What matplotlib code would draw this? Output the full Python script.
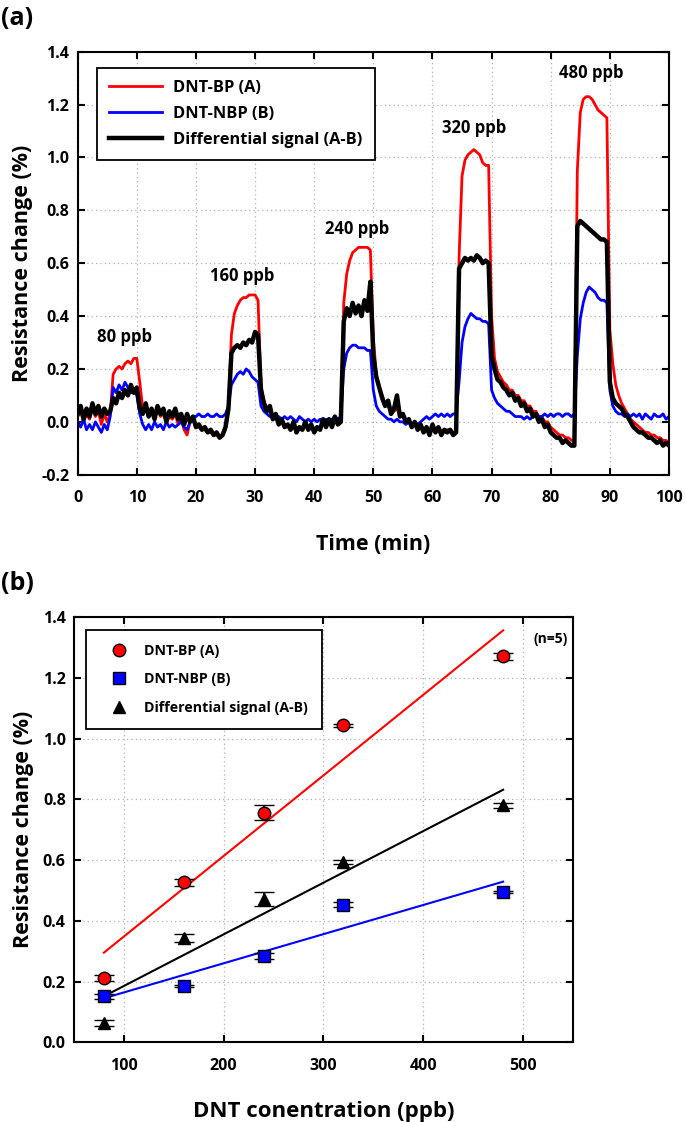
import numpy as np
import matplotlib
matplotlib.use("Agg")
import matplotlib.pyplot as plt

plt.rcParams['font.family'] = ['Open Sans', 'DejaVu Sans']
plt.rcParams['font.weight'] = 'bold'

# ---- panel (a): transient response, sampled every 0.5 min ----
time_min = np.arange(0, 100.5, 0.5)

sig_bp = [0.02, 0.04, 0.00, 0.03, 0.01, 0.05, 0.02, 0.04, -0.01, 0.03, 0.00, 0.03,
          0.18, 0.20, 0.21, 0.20, 0.22, 0.23, 0.22, 0.24, 0.24, 0.15, 0.05, 0.06,
          0.02, 0.04, 0.01, 0.05, 0.02, 0.03, 0.00, 0.02, 0.01, 0.03, -0.01, 0.01,
          -0.03, -0.05, 0.00, 0.01, -0.02, -0.02, -0.03, -0.03, -0.04, -0.04, -0.05, -0.05,
          -0.06, -0.05, -0.03, 0.05, 0.33, 0.41, 0.44, 0.46, 0.47, 0.47, 0.48, 0.48,
          0.48, 0.46, 0.14, 0.08, 0.05, 0.04, 0.02, 0.02, 0.00, 0.00, -0.01, -0.01,
          -0.02, -0.01, -0.03, -0.02, -0.03, -0.01, -0.03, -0.02, -0.03, -0.02, -0.03, 0.00,
          -0.02, 0.00, -0.02, 0.01, -0.01, 0.00, 0.45, 0.56, 0.61, 0.64, 0.65, 0.66,
          0.66, 0.66, 0.66, 0.65, 0.32, 0.18, 0.13, 0.10, 0.07, 0.06, 0.04, 0.04,
          0.05, 0.02, 0.02, 0.00, 0.00, -0.02, -0.01, -0.02, -0.01, -0.03, -0.02, -0.04,
          -0.02, -0.03, -0.02, -0.04, -0.03, -0.03, -0.03, -0.04, -0.04, 0.62, 0.93, 0.99,
          1.01, 1.02, 1.03, 1.02, 1.01, 0.98, 0.97, 0.97, 0.40, 0.24, 0.19, 0.17,
          0.15, 0.14, 0.12, 0.12, 0.10, 0.10, 0.08, 0.08, 0.06, 0.06, 0.04, 0.04,
          0.02, 0.02, 0.00, 0.00, -0.02, -0.03, -0.04, -0.05, -0.05, -0.06, -0.06, -0.07,
          -0.07, 0.95, 1.17, 1.22, 1.23, 1.23, 1.22, 1.20, 1.18, 1.17, 1.16, 1.15,
          0.35, 0.22, 0.14, 0.10, 0.07, 0.05, 0.03, 0.01, 0.00, -0.01, -0.02, -0.03,
          -0.04, -0.04, -0.05, -0.05, -0.06, -0.06, -0.07, -0.07, -0.08]

sig_nbp = [0.00, -0.02, 0.01, -0.03, -0.01, -0.03, 0.00, -0.02, -0.04, -0.01, -0.03, 0.02,
           0.13, 0.11, 0.14, 0.12, 0.15, 0.13, 0.11, 0.12, 0.10, 0.03, -0.01, -0.03,
           -0.01, -0.03, 0.00, -0.02, -0.01, -0.03, 0.00, -0.02, -0.01, -0.02, -0.01, 0.00,
           -0.02, -0.03, 0.00, 0.02, 0.02, 0.03, 0.02, 0.02, 0.03, 0.02, 0.02, 0.03,
           0.02, 0.02, 0.03, 0.06, 0.14, 0.16, 0.18, 0.19, 0.18, 0.20, 0.19, 0.17,
           0.16, 0.15, 0.06, 0.04, 0.03, 0.02, 0.02, 0.01, 0.02, 0.01, 0.02, 0.01,
           0.02, 0.01, 0.00, 0.02, 0.01, 0.00, 0.01, 0.00, 0.01, 0.00, 0.01, 0.00,
           0.01, 0.00, 0.01, 0.02, 0.01, 0.02, 0.20, 0.26, 0.28, 0.29, 0.29, 0.28,
           0.28, 0.28, 0.27, 0.27, 0.12, 0.06, 0.04, 0.03, 0.02, 0.01, 0.01, 0.00,
           0.01, 0.00, 0.00, -0.01, 0.00, -0.01, 0.00, -0.01, 0.00, 0.01, 0.02, 0.01,
           0.02, 0.03, 0.02, 0.03, 0.02, 0.03, 0.02, 0.03, 0.03, 0.15, 0.30, 0.36,
           0.39, 0.41, 0.40, 0.39, 0.39, 0.38, 0.38, 0.37, 0.12, 0.09, 0.07, 0.06,
           0.05, 0.04, 0.04, 0.03, 0.02, 0.02, 0.02, 0.01, 0.02, 0.01, 0.02, 0.03,
           0.02, 0.02, 0.03, 0.02, 0.03, 0.02, 0.03, 0.03, 0.02, 0.03, 0.03, 0.02,
           0.03, 0.25, 0.39, 0.45, 0.49, 0.51, 0.50, 0.49, 0.47, 0.46, 0.46, 0.45,
           0.12, 0.06, 0.04, 0.03, 0.03, 0.02, 0.03, 0.02, 0.03, 0.02, 0.03, 0.01,
           0.03, 0.02, 0.01, 0.03, 0.02, 0.02, 0.03, 0.01, 0.02]

sig_diff = [0.03, 0.06, 0.01, 0.05, 0.02, 0.07, 0.03, 0.06, 0.02, 0.05, 0.03, 0.04,
            0.09, 0.07, 0.11, 0.09, 0.12, 0.10, 0.14, 0.11, 0.13, 0.05, 0.03, 0.07,
            0.02, 0.05, 0.01, 0.06, 0.03, 0.05, 0.00, 0.04, 0.02, 0.05, 0.01, 0.03,
            -0.01, 0.03, 0.00, 0.02, -0.02, -0.01, -0.03, -0.02, -0.04, -0.03, -0.05, -0.04,
            -0.06, -0.05, -0.02, 0.05, 0.26, 0.28, 0.29, 0.28, 0.30, 0.29, 0.31, 0.30,
            0.34, 0.33, 0.12, 0.07, 0.04, 0.06, 0.01, 0.03, -0.01, 0.01, -0.02, -0.01,
            -0.03, 0.00, -0.04, -0.02, -0.03, 0.00, -0.03, -0.01, -0.04, -0.02, -0.03, 0.01,
            -0.02, 0.01, -0.02, 0.02, -0.01, 0.00, 0.38, 0.43, 0.40, 0.45, 0.41, 0.44,
            0.40, 0.46, 0.42, 0.53, 0.25, 0.17, 0.13, 0.09, 0.06, 0.08, 0.03, 0.05,
            0.10, 0.02, 0.03, 0.00, 0.01, -0.02, 0.00, -0.03, -0.01, -0.04, -0.02, -0.05,
            -0.01, -0.04, -0.02, -0.05, -0.03, -0.04, -0.03, -0.05, -0.04, 0.58, 0.60, 0.62,
            0.61, 0.62, 0.61, 0.63, 0.62, 0.60, 0.61, 0.60, 0.25, 0.20, 0.16, 0.15,
            0.13, 0.12, 0.10, 0.11, 0.08, 0.09, 0.06, 0.07, 0.04, 0.05, 0.02, 0.03,
            0.00, 0.01, -0.02, -0.01, -0.04, -0.05, -0.06, -0.06, -0.08, -0.07, -0.08, -0.09,
            -0.09, 0.74, 0.76, 0.75, 0.74, 0.73, 0.72, 0.71, 0.70, 0.69, 0.69, 0.68,
            0.15, 0.09, 0.07, 0.06, 0.05, 0.03, 0.02, 0.00, -0.02, -0.03, -0.04, -0.04,
            -0.05, -0.06, -0.06, -0.07, -0.08, -0.07, -0.09, -0.08, -0.09]

pulse_labels = ["80 ppb", "160 ppb", "240 ppb", "320 ppb", "480 ppb"]
pulse_label_t = [7.9, 27.9, 47.3, 67.1, 86.8]
pulse_label_v = [0.32, 0.55, 0.73, 1.11, 1.32]

# ---- panel (b): calibration ----
conc = np.array([80, 160, 240, 320, 480])
mean_bp = np.array([0.213, 0.527, 0.757, 1.045, 1.271])
err_bp = np.array([0.010, 0.011, 0.026, 0.005, 0.010])
mean_nbp = np.array([0.151, 0.186, 0.285, 0.454, 0.495])
err_nbp = np.array([0.007, 0.004, 0.009, 0.008, 0.004])
mean_diff = np.array([0.064, 0.344, 0.472, 0.594, 0.781])
err_diff = np.array([0.009, 0.013, 0.022, 0.008, 0.008])

names = ["DNT-BP (A)", "DNT-NBP (B)", "Differential signal (A-B)"]

fig = plt.figure(figsize=(6.85, 11.22), dpi=100)
ax1 = fig.add_axes([0.1134, 0.5769, 0.8632, 0.377])
ax2 = fig.add_axes([0.108, 0.0710, 0.7285, 0.3788])

grid_kw = dict(color='#b0b0b0', linestyle=(0, (1, 2.5)), linewidth=0.9)

ax1.plot(time_min, sig_bp, color='red', lw=2.0, label=names[0])
ax1.plot(time_min, sig_nbp, color='blue', lw=2.0, label=names[1])
ax1.plot(time_min, sig_diff, color='black', lw=3.2, label=names[2])
for lab, tx, ty in zip(pulse_labels, pulse_label_t, pulse_label_v):
    ax1.text(tx, ty, lab, ha='center', va='center', fontsize=12, fontweight='bold')
ax1.set_xlim(0, 100)
ax1.set_ylim(-0.2, 1.4)
ax1.set_xticks(np.arange(0, 101, 10))
ax1.set_yticks(np.arange(-0.2, 1.41, 0.2))
ax1.set_yticklabels(['%.1f' % v for v in np.arange(-0.2, 1.41, 0.2)])
ax1.set_xlabel("Time (min)", fontsize=15.5, fontweight='bold', labelpad=20)
ax1.set_ylabel("Resistance change (%)", fontsize=15.5, fontweight='bold', labelpad=6)
leg1 = ax1.legend(loc='upper left', bbox_to_anchor=(0.033, 0.962), borderaxespad=0,
                  fontsize=11.8, handlelength=3.2, fancybox=False, edgecolor='black',
                  framealpha=1, borderpad=0.75, labelspacing=0.6, handletextpad=0.7)
leg1.get_frame().set_linewidth(1.3)

ax2.plot(conc, np.polyval(np.polyfit(conc, mean_bp, 1), conc), color='red', lw=1.5)
ax2.plot(conc, np.polyval(np.polyfit(conc, mean_diff, 1), conc), color='black', lw=1.5)
ax2.plot(conc, np.polyval(np.polyfit(conc, mean_nbp, 1), conc), color='blue', lw=1.5)
err_kw = dict(ecolor='black', elinewidth=1.2, capsize=7, capthick=2, linestyle='none',
              markeredgecolor='black', markeredgewidth=1.0, zorder=3)
ax2.errorbar(conc, mean_bp, yerr=err_bp, marker='o', color='red', markersize=9,
             label=names[0], **err_kw)
ax2.errorbar(conc, mean_nbp, yerr=err_nbp, marker='s', color='blue', markersize=8,
             label=names[1], **err_kw)
ax2.errorbar(conc, mean_diff, yerr=err_diff, marker='^', color='black', markersize=9,
             label=names[2], **err_kw)
ax2.text(0.99, 0.965, "(n=5)", transform=ax2.transAxes, ha='right', va='top',
         fontsize=10, fontweight='bold')
ax2.set_xlim(50, 550)
ax2.set_ylim(0, 1.4)
ax2.set_xticks([100, 200, 300, 400, 500])
ax2.set_yticks(np.arange(0, 1.41, 0.2))
ax2.set_yticklabels(['%.1f' % v for v in np.arange(0, 1.41, 0.2)])
ax2.set_xlabel("DNT conentration (ppb)", fontsize=16, fontweight='bold', labelpad=20)
ax2.set_ylabel("Resistance change (%)", fontsize=15.5, fontweight='bold', labelpad=6)
handles, labels = ax2.get_legend_handles_labels()
handles = [h[0] for h in handles]
leg2 = ax2.legend(handles, labels, loc='upper left', bbox_to_anchor=(0.024, 0.970),
                  borderaxespad=0, fontsize=10.2, handlelength=2.6, fancybox=False,
                  edgecolor='black', framealpha=1, borderpad=1.0, labelspacing=1.0,
                  handletextpad=0.5)
leg2.get_frame().set_linewidth(1.3)

for ax in (ax1, ax2):
    ax.grid(True, **grid_kw)
    ax.set_axisbelow(True)
    ax.tick_params(direction='in', length=5, width=1.5, top=True, right=True,
                   labelsize=11.5)
    ax.tick_params(axis='x', pad=11)
    ax.tick_params(axis='y', pad=6)
    for lbl in ax.get_xticklabels() + ax.get_yticklabels():
        lbl.set_fontweight('bold')
    for sp in ax.spines.values():
        sp.set_linewidth(1.5)

fig.text(0.002, 0.995, "(a)", fontsize=18, fontweight='bold', ha='left', va='top')
fig.text(0.002, 0.491, "(b)", fontsize=18, fontweight='bold', ha='left', va='top')

fig.savefig("out.png", dpi=100)
